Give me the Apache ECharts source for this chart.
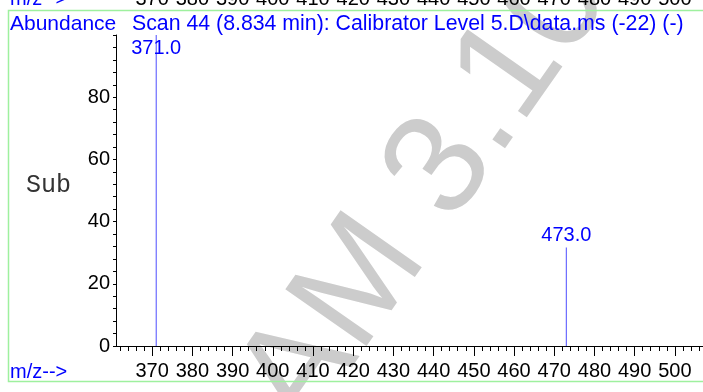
<!DOCTYPE html>
<html>
<head>
<meta charset="utf-8">
<script src="https://cdn.jsdelivr.net/npm/echarts@6/dist/echarts.min.js"></script>
<style>
html, body { margin: 0; padding: 0; background: #fff; }
#main { width: 703px; height: 392px; }
</style>
</head>
<body>
<div id="main"></div>
<script>
// peaks of scan 44
var peakMz = [371.0, 473.0];
var peakAbund = [100, 31.7];

// tick labels
var mzLabels = [370, 380, 390, 400, 410, 420, 430, 440, 450, 460, 470, 480, 490, 500];
var abundLabels = [0, 20, 40, 60, 80];

// texts
var yName = 'Abundance';
var scanTitle = 'Scan 44 (8.834 min): Calibrator Level 5.D\\data.ms (-22) (-)';
var xName = 'm/z-->';
var sideText = 'Sub';
var stamp = 'AM 3.10';

// minor ticks: every 2 on m/z, every 4 on abundance
var mzMinor = [];
for (var m = 362; m <= 506; m += 2) mzMinor.push(m);
var abundMinor = [];
for (var a = 0; a <= 100; a += 4) abundMinor.push(a);

var blue = '#0000ff';
var font = 'Liberation Sans, Arial, sans-serif';

var chart = echarts.init(document.getElementById('main'));

var peaks = [];
for (var i = 0; i < peakMz.length; i++) {
  var high = peakAbund[i] > 90;
  peaks.push({
    value: [peakMz[i], peakAbund[i]],
    label: { position: high ? 'insideTop' : 'top', distance: high ? 3 : 2 }
  });
}

chart.setOption({
  animation: false,
  title: [
    { text: yName, left: 10, top: 14, padding: 0,
      textStyle: { color: blue, fontSize: 21, fontWeight: 'normal', fontFamily: font } },
    { text: scanTitle, left: 132, top: 14, padding: 0,
      textStyle: { color: blue, fontSize: 21.3, fontWeight: 'normal', fontFamily: font } }
  ],
  grid: { left: 116, right: 0, top: 35, bottom: 46, outerBoundsMode: 'none', containLabel: false },
  xAxis: [
    { // main m/z axis, long ticks + labels
      type: 'value', position: 'bottom', min: 361, max: 507,
      axisLine: { show: true, lineStyle: { color: '#000', width: 1 } },
      axisTick: { show: true, customValues: mzLabels, length: 10, lineStyle: { color: '#000' } },
      axisLabel: { customValues: mzLabels, margin: 15, color: '#000', fontSize: 20, fontFamily: font },
      splitLine: { show: false }
    },
    { // short ticks
      type: 'value', position: 'bottom', min: 361, max: 507,
      axisLine: { show: false },
      axisTick: { show: true, customValues: mzMinor, length: 5, lineStyle: { color: '#000' } },
      axisLabel: { show: false },
      splitLine: { show: false }
    },
    { // copy of the labels cut off at the top edge
      type: 'value', position: 'top', min: 361, max: 507,
      axisLine: { show: false },
      axisTick: { show: false },
      axisLabel: { customValues: mzLabels, margin: 26, color: '#000', fontSize: 20, fontFamily: font },
      splitLine: { show: false }
    }
  ],
  yAxis: {
    type: 'value', min: 0, max: 100,
    axisLine: { show: true, lineStyle: { color: '#000', width: 1 } },
    axisTick: { show: true, customValues: abundMinor, length: 3, lineStyle: { color: '#000' } },
    axisLabel: { customValues: abundLabels, margin: 6, color: '#000', fontSize: 20, fontFamily: font },
    splitLine: { show: false }
  },
  series: [{
    type: 'bar',
    xAxisIndex: 0,
    barWidth: 1,
    itemStyle: { color: '#4d4dff' },
    label: {
      show: true, color: blue, fontSize: 20, fontFamily: font,
      formatter: function (p) { return p.value[0].toFixed(1); }
    },
    data: peaks
  }],
  graphic: [
    { type: 'text', z: -10, x: 426, y: 192, rotation: 55 * Math.PI / 180,
      style: { text: stamp, fill: '#cccccc', fontSize: 144, fontFamily: font,
               align: 'center', verticalAlign: 'middle', textAlign: 'center', textVerticalAlign: 'middle' } },
    { type: 'rect', z: 100, silent: true,
      shape: { x: 8.5, y: 10.5, width: 700, height: 371 },
      style: { fill: 'none', stroke: '#9ef09e', lineWidth: 1.5 } },
    { type: 'text', x: 10, y: 372,
      style: { text: xName, fill: blue, fontSize: 20, fontFamily: font, verticalAlign: 'middle', textVerticalAlign: 'middle' } },
    { type: 'text', x: 10, y: -1,
      style: { text: xName, fill: blue, fontSize: 20, fontFamily: font, verticalAlign: 'middle', textVerticalAlign: 'middle' } },
    { type: 'text', x: 26, y: 185,
      style: { text: sideText, fill: '#333', fontSize: 25, fontFamily: 'Liberation Mono, Courier New, monospace',
               verticalAlign: 'middle', textVerticalAlign: 'middle' } }
  ]
});
</script>
</body>
</html>
